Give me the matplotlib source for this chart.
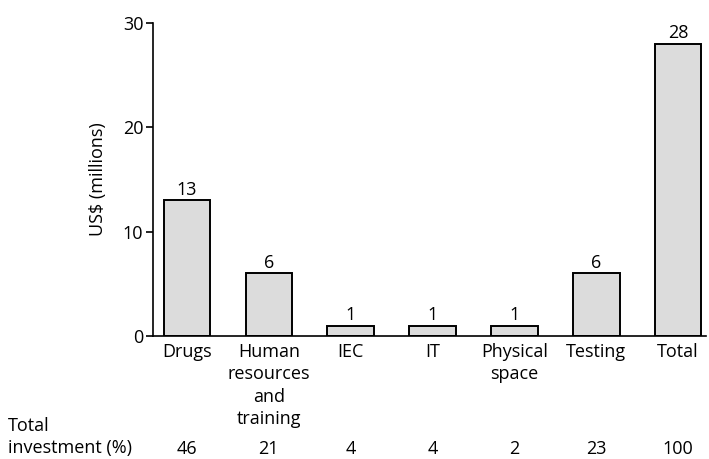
import matplotlib
matplotlib.use("Agg")
import matplotlib.pyplot as plt
import matplotlib.transforms as mtransforms

plt.rcParams["font.family"] = ["Open Sans", "DejaVu Sans"]

categories = ["Drugs", "Human\nresources\nand\ntraining", "IEC", "IT",
              "Physical\nspace", "Testing", "Total"]
values = [13, 6, 1, 1, 1, 6, 28]
percent = [46, 21, 4, 4, 2, 23, 100]

fs = 13
fig = plt.figure(figsize=(7.09, 4.59), dpi=100)
ax = fig.add_axes([153 / 709, 1 - 336 / 459, (706 - 153) / 709, (336 - 23) / 459])

xs = list(range(len(values)))
ax.bar(xs, values, width=0.57, color="#dcdcdc", edgecolor="black", linewidth=1.4)
for x, v in zip(xs, values):
    ax.text(x, v + 0.15, str(v), ha="center", va="bottom", fontsize=fs)

ax.set_xlim(-0.415, 6.34)
ax.set_ylim(0, 30)
ax.set_yticks([0, 10, 20, 30])
ax.tick_params(axis="y", length=5, width=1.2, labelsize=fs, pad=2)
ax.set_xticks(xs)
ax.set_xticklabels(categories, fontsize=fs, linespacing=1.32)
ax.tick_params(axis="x", length=0, pad=5)
for s in ["top", "right"]:
    ax.spines[s].set_visible(False)
ax.spines["left"].set_linewidth(1.2)
ax.spines["bottom"].set_linewidth(1.2)
ax.set_ylabel("US$ (millions)", fontsize=fs, labelpad=11)

# bottom row of percentages
trans = mtransforms.blended_transform_factory(ax.transData, fig.transFigure)
for x, p in zip(xs, percent):
    ax.text(x, 1 - 449 / 459, str(p), transform=trans, ha="center", va="center",
            fontsize=fs, clip_on=False)
fig.text(8 / 709, 1 - 437 / 459, "Total\ninvestment (%)", ha="left", va="center",
         fontsize=fs, linespacing=1.3)

fig.savefig("out.png", dpi=100)
